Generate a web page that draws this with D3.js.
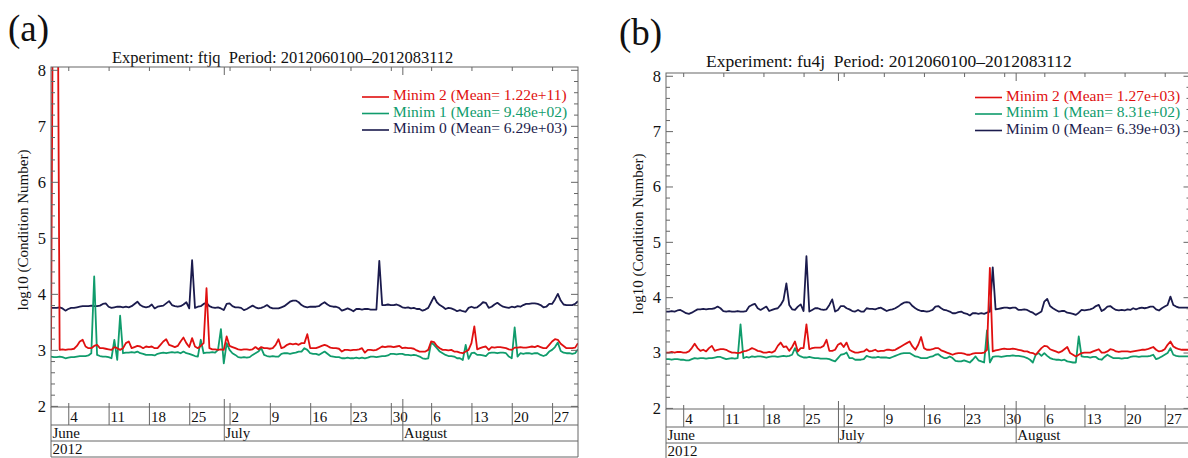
<!DOCTYPE html>
<html><head><meta charset="utf-8">
<script src="https://cdn.jsdelivr.net/npm/d3@7"></script>
<style>
body{margin:0;background:#fff}
svg{display:block}
text{font-family:"Liberation Serif","DejaVu Serif",serif;fill:#111}
</style>
</head><body>
<svg id="c" width="1188" height="458"></svg>
<script>
// ---------- data (12-hourly, 2012-06-01 00 .. 2012-08-31 12) ----------
const panelTags = ["(a)", "(b)"];
const experiments = ["ftjq", "fu4j"];
const periodText = "2012060100\u20132012083112";
const seriesNames = ["Minim 2", "Minim 1", "Minim 0"];
const meansA = ["1.22e+11", "9.48e+02", "6.29e+03"];
const meansB = ["1.27e+03", "8.31e+02", "6.39e+03"];
const yTicks = [2, 3, 4, 5, 6, 7, 8];
const weekLabels = ["4","11","18","25","2","9","16","23","30","6","13","20","27"];
const monthLabels = ["June", "July", "August"];
const yearLabel = "2012";

const a_min2 = [
3.00,13.0,13.0,3.00,3.01,3.00,3.01,3.01,3.02,3.07,
3.15,3.18,3.06,3.03,3.03,3.07,3.09,3.03,3.03,3.02,
3.01,3.00,3.05,3.03,3.00,3.03,3.12,3.15,3.03,3.05,
3.07,3.06,3.03,3.06,3.05,3.06,3.03,3.03,3.09,3.15,
3.19,3.09,3.07,3.05,3.07,3.15,3.22,3.12,3.05,3.21,
3.06,3.03,3.07,3.12,4.10,3.03,3.01,3.01,3.00,3.01,
3.00,3.24,3.07,3.05,3.03,3.01,3.00,3.01,3.01,3.00,
3.01,3.05,3.01,3.05,3.03,3.03,3.02,3.03,3.09,3.19,
3.03,3.05,3.09,3.11,3.10,3.11,3.09,3.12,3.12,3.28,
3.03,3.03,3.03,3.05,3.07,3.09,3.07,3.04,3.03,3.03,
3.02,2.97,3.00,3.00,2.99,3.00,3.00,3.01,3.03,2.95,
3.00,3.00,2.99,3.00,3.03,3.06,3.05,3.06,3.06,3.05,
3.06,3.07,3.03,3.04,3.03,3.03,3.02,2.99,2.97,2.97,
2.97,3.00,3.15,3.14,3.07,3.03,3.00,3.00,2.99,3.00,
2.97,2.97,2.95,2.94,2.97,3.00,3.12,3.42,3.01,3.03,
3.05,3.06,3.00,3.05,3.04,3.05,3.05,3.04,3.03,3.01,
3.00,3.04,3.04,3.05,3.04,3.04,3.05,3.06,3.05,3.07,
3.05,3.03,3.03,3.09,3.15,3.19,3.18,3.11,3.07,3.03,
3.03,3.03,3.04,3.12];
const a_min1 = [
2.88,2.87,2.87,2.88,2.87,2.85,2.86,2.87,2.87,2.88,
2.89,2.89,2.89,2.90,2.94,4.31,2.91,2.89,2.88,2.88,
2.87,2.85,3.18,2.82,3.61,2.94,2.95,2.95,2.96,2.95,
2.97,2.94,2.93,2.91,2.91,2.91,2.90,2.93,2.94,2.95,
2.94,2.95,2.96,2.95,2.96,2.94,2.97,2.94,2.93,2.91,
2.89,2.88,3.18,2.94,2.95,2.95,2.96,2.95,3.00,3.37,
2.76,3.12,3.00,2.94,2.91,2.87,2.86,2.87,2.86,2.87,
2.91,2.94,2.97,3.03,2.91,2.89,2.88,2.89,2.88,2.88,
2.93,2.94,2.94,2.93,2.94,2.95,2.97,2.97,3.03,3.00,
2.94,2.93,2.93,2.91,2.94,2.97,2.93,2.89,2.88,2.87,
2.87,2.85,2.85,2.86,2.85,2.85,2.86,2.85,2.86,2.85,
2.86,2.88,2.88,2.87,2.88,2.89,2.89,2.90,2.93,2.93,
2.92,2.93,2.93,2.91,2.91,2.90,2.91,2.90,2.88,2.85,
2.84,2.85,3.13,3.09,3.03,2.97,2.94,2.91,2.89,2.89,
2.88,2.85,2.85,2.82,3.09,2.84,2.94,2.95,2.91,2.91,
2.90,2.89,2.94,2.95,2.95,2.94,2.95,2.95,2.94,2.88,
2.85,3.40,2.88,2.94,2.93,2.94,2.94,2.93,2.94,2.94,
2.91,2.89,2.91,2.97,3.00,3.05,3.13,2.98,2.95,2.94,
2.94,2.93,2.94,3.01];
const a_min0 = [
3.75,3.75,3.75,3.76,3.74,3.70,3.73,3.75,3.75,3.76,
3.77,3.78,3.78,3.78,3.79,3.78,3.78,3.79,3.82,3.83,
3.77,3.75,3.76,3.77,3.77,3.76,3.77,3.76,3.78,3.82,
3.86,3.80,3.77,3.76,3.77,3.81,3.74,3.77,3.78,3.79,
3.83,3.87,3.80,3.78,3.77,3.78,3.81,3.85,3.74,4.60,
3.75,3.77,3.78,3.82,3.84,3.78,3.76,3.75,3.76,3.74,
3.71,3.82,3.83,3.78,3.76,3.76,3.75,3.71,3.73,3.76,
3.79,3.76,3.74,3.75,3.77,3.80,3.76,3.74,3.74,3.74,
3.76,3.78,3.82,3.86,3.88,3.88,3.85,3.80,3.77,3.76,
3.77,3.77,3.77,3.78,3.82,3.85,3.81,3.78,3.77,3.77,
3.75,3.70,3.72,3.74,3.72,3.69,3.73,3.73,3.72,3.73,
3.73,3.72,3.72,3.72,4.59,3.80,3.80,3.81,3.80,3.80,
3.81,3.79,3.76,3.75,3.76,3.74,3.75,3.73,3.73,3.70,
3.72,3.75,3.85,3.95,3.85,3.80,3.77,3.73,3.75,3.74,
3.72,3.69,3.71,3.69,3.68,3.75,3.77,3.75,3.76,3.80,
3.85,3.84,3.75,3.77,3.81,3.84,3.80,3.77,3.76,3.75,
3.77,3.76,3.78,3.77,3.80,3.82,3.82,3.83,3.83,3.82,
3.80,3.76,3.77,3.82,3.82,3.90,4.00,3.88,3.81,3.80,
3.80,3.80,3.82,3.87];

const b_min2 = [
3.00,3.00,3.01,3.00,3.01,3.01,3.00,3.00,3.02,3.08,
3.16,3.08,3.03,3.05,3.02,3.08,3.12,3.03,3.05,3.06,
3.06,3.05,3.02,3.00,3.00,2.99,3.00,3.02,3.03,3.05,
3.08,3.06,3.03,3.02,3.00,3.00,3.01,3.00,3.03,3.12,
3.18,3.10,3.11,3.03,3.10,3.20,3.02,3.08,3.08,3.51,
3.06,3.08,3.09,3.09,3.09,3.12,3.23,3.03,3.03,3.05,
3.14,3.17,3.10,3.18,3.05,3.02,3.00,3.00,3.01,3.02,
3.06,3.02,3.03,3.05,3.02,3.03,3.03,3.05,3.05,3.04,
3.05,3.08,3.11,3.14,3.17,3.20,3.11,3.05,3.14,3.28,
3.08,3.05,3.05,3.06,3.08,3.08,3.04,3.02,3.00,2.98,
2.96,2.98,2.99,2.99,2.98,2.96,2.96,2.98,2.99,2.99,
2.99,3.00,3.05,4.53,3.02,3.04,3.05,3.06,3.07,3.06,
3.06,3.07,3.06,3.05,3.04,3.02,3.02,3.00,2.99,2.96,
3.02,3.08,3.12,3.11,3.06,3.04,3.02,3.00,3.02,3.06,
3.10,2.99,2.96,2.93,2.96,2.99,3.00,3.00,3.00,3.02,
3.04,3.06,3.00,3.00,3.02,3.06,3.05,3.02,3.01,3.02,
3.02,3.02,3.01,3.02,3.03,3.04,3.05,3.05,3.06,3.08,
3.10,3.05,3.02,3.03,3.06,3.14,3.20,3.11,3.08,3.06,
3.05,3.05,3.05,3.05];
const b_min1 = [
2.88,2.88,2.87,2.88,2.88,2.87,2.87,2.86,2.86,2.88,
2.90,2.89,2.90,2.90,2.89,2.90,2.90,2.91,2.92,2.92,
2.90,2.88,2.89,2.90,2.89,2.90,3.51,2.90,2.92,2.91,
2.93,2.92,2.93,2.93,2.92,2.91,2.92,2.93,2.93,2.92,
2.93,2.94,2.93,2.94,2.96,3.08,2.96,2.93,2.91,2.91,
2.92,2.91,2.90,2.90,2.89,2.89,2.89,2.88,2.86,2.84,
2.90,2.96,2.97,3.00,2.90,2.90,2.87,2.87,2.87,2.88,
2.94,2.92,2.91,2.91,2.92,2.91,2.91,2.91,2.90,2.92,
2.94,2.96,2.98,2.99,2.99,2.99,2.96,2.93,2.92,2.90,
2.90,2.90,2.92,2.93,2.96,2.97,2.93,2.90,2.90,2.93,
2.90,2.85,2.84,2.84,2.86,2.84,2.82,2.87,2.93,2.86,
2.84,2.82,3.40,2.82,2.92,2.93,2.93,2.92,2.93,2.94,
2.94,2.95,2.94,2.94,2.93,2.92,2.90,2.87,2.82,2.96,
2.99,2.94,2.99,2.94,2.90,2.88,2.87,2.87,2.86,2.87,
2.84,2.83,2.82,2.82,3.29,2.93,2.92,2.92,2.91,2.92,
2.92,2.88,2.87,2.92,2.96,2.93,2.90,2.90,2.90,2.89,
2.90,2.90,2.92,2.93,2.93,2.92,2.93,2.93,2.93,2.94,
2.96,2.88,2.90,2.93,2.96,2.99,3.08,2.96,2.94,2.93,
2.93,2.93,2.93,2.93];
const b_min0 = [
3.74,3.74,3.75,3.74,3.76,3.77,3.74,3.71,3.70,3.72,
3.75,3.78,3.78,3.79,3.78,3.79,3.79,3.80,3.83,3.80,
3.75,3.74,3.75,3.74,3.74,3.75,3.74,3.74,3.75,3.83,
3.86,3.88,3.80,3.77,3.80,3.83,3.75,3.77,3.79,3.80,
3.86,3.95,4.25,3.86,3.78,3.77,3.83,3.87,3.75,4.74,
3.74,3.77,3.80,3.80,3.78,3.77,3.78,3.86,3.96,3.74,
3.77,3.84,3.84,3.80,3.78,3.75,3.74,3.77,3.74,3.74,
3.80,3.79,3.79,3.78,3.80,3.81,3.78,3.75,3.77,3.78,
3.80,3.83,3.87,3.90,3.91,3.90,3.84,3.80,3.77,3.75,
3.75,3.74,3.75,3.77,3.83,3.84,3.80,3.77,3.76,3.74,
3.71,3.71,3.73,3.74,3.71,3.70,3.67,3.71,3.71,3.70,
3.71,3.70,3.72,3.74,4.54,3.78,3.79,3.80,3.81,3.81,
3.80,3.81,3.81,3.77,3.77,3.78,3.77,3.74,3.72,3.68,
3.71,3.74,3.92,3.97,3.84,3.80,3.77,3.74,3.75,3.75,
3.72,3.71,3.70,3.68,3.72,3.77,3.76,3.77,3.78,3.80,
3.84,3.86,3.75,3.78,3.83,3.84,3.80,3.77,3.76,3.77,
3.76,3.78,3.77,3.80,3.78,3.80,3.81,3.80,3.81,3.83,
3.83,3.78,3.76,3.80,3.83,3.86,4.01,3.86,3.83,3.81,
3.81,3.81,3.81,3.82];

const colors = {"Minim 2": "#e01010", "Minim 1": "#109c6c", "Minim 0": "#1b1b4d"};

// ---------- layout ----------
const svg = d3.select("#c");
const tStart = new Date(Date.UTC(2012, 5, 1, 0));
const tEnd = new Date(Date.UTC(2012, 7, 31, 12));
const times = a_min0.map((_, i) => new Date(tStart.getTime() + i * 12 * 3600e3));

const panels = [
  {tag: panelTags[0], exp: experiments[0], means: meansA,
   series: [a_min2, a_min1, a_min0],
   x0: 51, x1: 578, y0: 67, y1: 407, rows: [407, 425, 441, 457],
   tagPos: [8, 41], titlePos: [112, 63], titleSize: 16.5,
   legX: 362, legY: [97, 113.5, 130], ylab: [23, 230]},
  {tag: panelTags[1], exp: experiments[1], means: meansB,
   series: [b_min2, b_min1, b_min0],
   x0: 666, x1: 1190.5, y0: 73, y1: 409, rows: [409, 427, 443, 459],
   tagPos: [619, 45], titlePos: [706, 67], titleSize: 17.5,
   legX: 975, legY: [97.5, 114, 130.5], ylab: [638, 234]}
];

const lineCol = "#666";
const serif = "Liberation Serif, DejaVu Serif, serif";

panels.forEach((p, pi) => {
  const g = svg.append("g");
  const x = d3.scaleUtc().domain([tStart, tEnd]).range([p.x0, p.x1]);
  const y = d3.scaleLinear().domain([1.98, 8.05]).range([p.y1, p.y0]);

  g.append("text").attr("x", p.tagPos[0]).attr("y", p.tagPos[1])
    .attr("font-size", 37).text(p.tag);
  g.append("text").attr("x", p.titlePos[0]).attr("y", p.titlePos[1])
    .attr("font-size", p.titleSize).attr("xml:space", "preserve")
    .text("Experiment: " + p.exp + "  Period: " + periodText);

  g.append("text")
    .attr("transform", `translate(${p.ylab[0]},${p.ylab[1]}) rotate(-90)`)
    .attr("text-anchor", "middle").attr("dy", "0.35em")
    .attr("font-size", 15).text("log10 (Condition Number)");

  const clipId = "clip" + pi;
  svg.append("clipPath").attr("id", clipId).append("rect")
    .attr("x", p.x0).attr("y", p.y0).attr("width", p.x1 - p.x0).attr("height", p.y1 - p.y0);
  const line = d3.line().x((d, i) => x(times[i])).y(d => y(d));
  [2, 1, 0].forEach(k => {
    g.append("path").datum(p.series[k]).attr("clip-path", `url(#${clipId})`)
      .attr("d", line).attr("fill", "none")
      .attr("stroke", colors[seriesNames[k]]).attr("stroke-width", 1.8)
      .attr("stroke-linejoin", "round");
  });

  const minor = d3.range(2, 8.01, 0.2).map(v => +v.toFixed(1)).filter(v => !yTicks.includes(v));
  const yl = g.append("g").attr("transform", `translate(${p.x0},0)`)
    .call(d3.axisLeft(y).tickValues(yTicks).tickSize(-7).tickPadding(5).tickFormat(d3.format("d")));
  yl.select(".domain").remove();
  yl.selectAll("line").attr("stroke", lineCol);
  yl.selectAll("text").attr("font-size", 16.5).style("fill", "#111").style("font-family", serif);
  const ylm = g.append("g").attr("transform", `translate(${p.x0},0)`)
    .call(d3.axisLeft(y).tickValues(minor).tickSize(-4).tickFormat(""));
  ylm.select(".domain").remove(); ylm.selectAll("line").attr("stroke", lineCol);
  const yr = g.append("g").attr("transform", `translate(${p.x1},0)`)
    .call(d3.axisRight(y).tickValues(yTicks).tickSize(-7).tickFormat(""));
  yr.select(".domain").remove(); yr.selectAll("line").attr("stroke", lineCol);
  const yrm = g.append("g").attr("transform", `translate(${p.x1},0)`)
    .call(d3.axisRight(y).tickValues(minor).tickSize(-4).tickFormat(""));
  yrm.select(".domain").remove(); yrm.selectAll("line").attr("stroke", lineCol);

  g.append("rect").attr("x", p.x0).attr("y", p.y0)
    .attr("width", p.x1 - p.x0).attr("height", p.y1 - p.y0)
    .attr("fill", "none").attr("stroke", lineCol).attr("stroke-width", 1);

  const weeks = d3.utcMonday.range(tStart, tEnd);
  const months = d3.utcMonth.range(new Date(Date.UTC(2012, 5, 2)), tEnd);
  const tb = g.append("g").attr("transform", `translate(0,${p.y1})`)
    .call(d3.axisTop(x).tickValues(weeks).tickSize(4).tickFormat(""));
  tb.select(".domain").remove(); tb.selectAll("line").attr("stroke", lineCol);
  const tbm = g.append("g").attr("transform", `translate(0,${p.y1})`)
    .call(d3.axisTop(x).tickValues(months).tickSize(8).tickFormat(""));
  tbm.select(".domain").remove(); tbm.selectAll("line").attr("stroke", lineCol);
  const tt = g.append("g").attr("transform", `translate(0,${p.y0})`)
    .call(d3.axisBottom(x).tickValues(weeks).tickSize(4).tickFormat(""));
  tt.select(".domain").remove(); tt.selectAll("line").attr("stroke", lineCol);
  const ttm = g.append("g").attr("transform", `translate(0,${p.y0})`)
    .call(d3.axisBottom(x).tickValues(months).tickSize(8).tickFormat(""));
  ttm.select(".domain").remove(); ttm.selectAll("line").attr("stroke", lineCol);

  const r = p.rows;
  const dayAx = g.append("g").attr("transform", `translate(0,${r[0]})`)
    .call(d3.axisBottom(x).tickValues(weeks).tickSize(r[1] - r[0])
      .tickFormat((d, i) => weekLabels[i]));
  dayAx.select(".domain").remove();
  dayAx.selectAll("line").attr("stroke", lineCol);
  dayAx.selectAll("text").attr("text-anchor", "start").attr("x", 1.5)
    .attr("y", r[1] - r[0] - 3.5).attr("dy", 0).attr("font-size", 15)
    .style("fill", "#111").style("font-family", serif);

  const monAx = g.append("g").attr("transform", `translate(0,${r[0]})`)
    .call(d3.axisBottom(x).tickValues(months).tickSize(r[2] - r[0]).tickFormat(""));
  monAx.select(".domain").remove(); monAx.selectAll("line").attr("stroke", lineCol);
  const monStarts = [tStart].concat(months);
  g.selectAll(".mlab").data(monStarts).join("text")
    .attr("x", d => x(d) + 1.5).attr("y", r[2] - 3.5)
    .attr("font-size", 15).text((d, i) => monthLabels[i]);
  g.append("text").attr("x", p.x0 + 1.5).attr("y", r[3] - 3.5)
    .attr("font-size", 15).text(yearLabel);

  [r[1], r[2], r[3]].forEach(yy => {
    g.append("line").attr("x1", p.x0).attr("x2", p.x1).attr("y1", yy).attr("y2", yy)
      .attr("stroke", lineCol);
  });
  [p.x0, p.x1].forEach(xx => {
    g.append("line").attr("x1", xx).attr("x2", xx).attr("y1", r[0]).attr("y2", r[3])
      .attr("stroke", lineCol);
  });

  seriesNames.forEach((name, k) => {
    const ly = p.legY[k];
    g.append("line").attr("x1", p.legX).attr("x2", p.legX + 27)
      .attr("y1", ly).attr("y2", ly).attr("stroke", colors[name]).attr("stroke-width", 1.6);
    g.append("text").attr("x", p.legX + 31).attr("y", ly + 3)
      .attr("font-size", 15.5).style("fill", colors[name])
      .text(name + " (Mean= " + p.means[k] + ")");
  });
});
</script>
</body></html>
